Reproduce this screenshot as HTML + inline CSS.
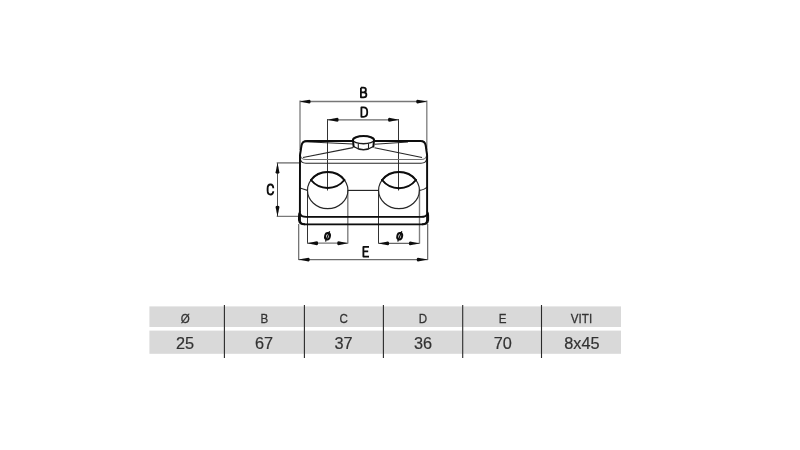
<!DOCTYPE html>
<html><head><meta charset="utf-8">
<style>
html,body{margin:0;padding:0;background:#fff;}
body{width:800px;height:450px;overflow:hidden;font-family:"Liberation Sans",sans-serif;}
svg{display:block;position:absolute;left:0;top:0;will-change:transform;}
text{font-family:"Liberation Sans",sans-serif;}
</style></head><body>
<svg width="800" height="450" viewBox="0 0 800 450">
<defs><filter id="soft" x="0" y="0" width="800" height="450" filterUnits="userSpaceOnUse"><feGaussianBlur stdDeviation="0.35"/></filter></defs>
<rect width="800" height="450" fill="#fff"/>
<g filter="url(#soft)">

<!-- TABLE -->
<g>
<rect x="149.4" y="306.4" width="471.6" height="20.6" fill="#d9d9d9"/>
<rect x="149.4" y="330.6" width="471.6" height="23.2" fill="#d9d9d9"/>
<g stroke="#2a2a2a" stroke-width="1.1">
<line x1="224.4" y1="305" x2="224.4" y2="358"/>
<line x1="304.4" y1="305" x2="304.4" y2="358"/>
<line x1="383.4" y1="305" x2="383.4" y2="358"/>
<line x1="462.7" y1="305" x2="462.7" y2="358"/>
<line x1="541.5" y1="305" x2="541.5" y2="358"/>
</g>
<g font-size="11.6" fill="#333" stroke="#333" stroke-width="0.25" text-anchor="middle" transform="translate(0,322.9) scale(1,1.08) translate(0,-322.9)">
<text x="185.3" y="322.9">Ø</text>
<text x="264.3" y="322.9">B</text>
<text x="343.8" y="322.9">C</text>
<text x="423" y="322.9">D</text>
<text x="502.7" y="322.9">E</text>
<text x="581.5" y="322.9">VITI</text>
</g>
<g font-size="16.3" fill="#333" stroke="#333" stroke-width="0.2" text-anchor="middle">
<text x="185" y="349">25</text>
<text x="264" y="349">67</text>
<text x="343.6" y="349">37</text>
<text x="423" y="349">36</text>
<text x="502.7" y="349">70</text>
<text x="581.9" y="349">8x45</text>
</g>
</g>

<!-- DIMENSIONS -->
<g fill="none">
<!-- B -->
<line x1="300" y1="100.5" x2="300" y2="150" stroke="#858585" stroke-width="1.4"/>
<line x1="426.8" y1="100.5" x2="426.8" y2="150" stroke="#858585" stroke-width="1.4"/>
<line x1="300" y1="101.5" x2="426.8" y2="101.5" stroke="#777" stroke-width="1.3"/>
<!-- D -->
<line x1="327.5" y1="119" x2="327.5" y2="190.5" stroke="#333" stroke-width="1"/>
<line x1="398.5" y1="119" x2="398.5" y2="190.5" stroke="#333" stroke-width="1"/>
<line x1="327.5" y1="119.8" x2="398.5" y2="119.8" stroke="#6a6a6a" stroke-width="1.2"/>
<!-- C -->
<line x1="277.5" y1="163" x2="277.5" y2="216.3" stroke="#505050" stroke-width="1"/>
<line x1="276.7" y1="162.9" x2="300" y2="162.9" stroke="#6a6a6a" stroke-width="1.3"/>
<line x1="276.7" y1="216.3" x2="299" y2="216.3" stroke="#555" stroke-width="1"/>
<!-- phi left -->
<line x1="307.5" y1="190" x2="307.5" y2="243.6" stroke="#333" stroke-width="1"/>
<line x1="347.8" y1="190" x2="347.8" y2="243.6" stroke="#808080" stroke-width="1.4"/>
<line x1="307.5" y1="243.1" x2="347.8" y2="243.1" stroke="#777" stroke-width="1.3"/>
<!-- phi right -->
<line x1="378.5" y1="190" x2="378.5" y2="243.6" stroke="#333" stroke-width="1"/>
<line x1="419.5" y1="190" x2="419.5" y2="243.6" stroke="#808080" stroke-width="1.4"/>
<line x1="378.5" y1="243.3" x2="419.5" y2="243.3" stroke="#666" stroke-width="1.2"/>
<!-- E -->
<line x1="298.7" y1="224" x2="298.7" y2="260" stroke="#686868" stroke-width="1.2"/>
<line x1="427.7" y1="224" x2="427.7" y2="260" stroke="#555" stroke-width="1.1"/>
<line x1="298.7" y1="259.5" x2="427.7" y2="259.5" stroke="#6c6c6c" stroke-width="1.25"/>
</g>
<g fill="#0d0d0d" stroke="none">
<path d="M299.6 101.6 L309.4 99.64999999999999 Q310.6 99.64999999999999 310.6 101.6 Q310.6 103.55 309.4 103.55 Z"/>
<path d="M427.2 101.6 L417.4 99.64999999999999 Q416.2 99.64999999999999 416.2 101.6 Q416.2 103.55 417.4 103.55 Z"/>
<path d="M327.3 119.8 L337.4 117.85 Q338.6 117.85 338.6 119.8 Q338.6 121.75 337.4 121.75 Z"/>
<path d="M398.8 119.8 L389.2 117.85 Q388.0 117.85 388.0 119.8 Q388.0 121.75 389.2 121.75 Z"/>
<path d="M277.5 162.8 L275.55 172.4 Q275.55 173.6 277.5 173.6 Q279.45 173.6 279.45 172.4 Z"/>
<path d="M277.5 216.5 L275.55 206.9 Q275.55 205.7 277.5 205.7 Q279.45 205.7 279.45 206.9 Z"/>
<path d="M307.3 243.2 L316.9 241.25 Q318.1 241.25 318.1 243.2 Q318.1 245.14999999999998 316.9 245.14999999999998 Z"/>
<path d="M348 243.2 L338.4 241.25 Q337.2 241.25 337.2 243.2 Q337.2 245.14999999999998 338.4 245.14999999999998 Z"/>
<path d="M378.3 243.4 L387.9 241.45000000000002 Q389.1 241.45000000000002 389.1 243.4 Q389.1 245.35 387.9 245.35 Z"/>
<path d="M419.7 243.4 L410.1 241.45000000000002 Q408.9 241.45000000000002 408.9 243.4 Q408.9 245.35 410.1 245.35 Z"/>
<path d="M298.5 259.6 L308.5 257.65000000000003 Q309.7 257.65000000000003 309.7 259.6 Q309.7 261.55 308.5 261.55 Z"/>
<path d="M427.9 259.6 L417.9 257.65000000000003 Q416.7 257.65000000000003 416.7 259.6 Q416.7 261.55 417.9 261.55 Z"/>
</g>

<!-- dimension letters -->
<g fill="none" stroke="#0d0d0d" stroke-width="1.8" stroke-linejoin="round" stroke-linecap="butt">
<path d="M360.9 87.7 L360.9 97.3 L363.6 97.3 Q366.4 97.3 366.4 94.7 Q366.4 92.3 363.6 92.3 L360.9 92.3 M363.4 92.3 Q365.9 92.3 365.9 90 Q365.9 87.7 363.4 87.7 L360.9 87.7"/>
<path d="M361.4 107.4 L361.4 116.8 L363.4 116.8 Q367.2 116.8 367.2 112.8 L367.2 111.4 Q367.2 107.4 363.4 107.4 Z"/>
<path d="M273.3 188.3 C273.2 185.7 272.3 184.5 270.5 184.5 C268.4 184.5 267.6 186.1 267.6 188.5 L267.6 190.5 C267.6 192.9 268.4 194.5 270.5 194.5 C272.3 194.5 273.2 193.3 273.3 191.2"/>
<path d="M369 246.9 L363.4 246.9 L363.4 256.6 L369 256.6 M363.4 251.4 L368.2 251.4"/>
</g>
<!-- phi symbols -->
<g stroke="#0d0d0d" fill="none">
<ellipse cx="327.5" cy="236.2" rx="2.4" ry="3.3" stroke-width="2" transform="rotate(14 327.5 236.2)"/>
<line x1="325.5" y1="241.6" x2="329.6" y2="231.3" stroke-width="1.3"/>
<ellipse cx="399.7" cy="236.2" rx="2.4" ry="3.3" stroke-width="2" transform="rotate(14 399.7 236.2)"/>
<line x1="397.7" y1="241.6" x2="401.8" y2="231.3" stroke-width="1.3"/>
</g>

<!-- BODY thin lines -->
<g stroke="#262626" stroke-width="1.15" fill="none">
<path d="M300.3 155.5 Q301 159.5 306 159.5 L421 159.5 Q426 159.5 426.7 155.5" stroke="#707070" stroke-width="1.2"/>
<path d="M300.2 158.5 Q300.8 163.2 306 163.2 L421 163.2 Q426.2 163.2 426.8 158.5" stroke="#2a2a2a" stroke-width="1.1"/>
<line x1="303" y1="157.5" x2="353" y2="147.6"/>
<line x1="374.5" y1="147.8" x2="422" y2="157.5"/>
<line x1="305" y1="141.8" x2="353" y2="144"/>
<line x1="374.5" y1="144.3" x2="408" y2="142"/>
<!-- circles thin -->
<ellipse cx="327.7" cy="190.3" rx="20.2" ry="18.3"/>
<ellipse cx="399" cy="190.3" rx="20.4" ry="18.3"/>
<!-- mid line -->
<line x1="348" y1="190.4" x2="378.5" y2="190.4"/>
<path d="M300 188 Q304 189.5 307.5 190.4"/>
<path d="M419.5 190.4 Q425 189.5 427 187"/>
<!-- bolt thin -->
<path d="M353 140 A10.4 3.7 0 0 0 374 140" stroke="#1a1a1a" stroke-width="1.3"/>
<path d="M353.6 146.5 Q363.4 153 373.4 146.5" stroke="#1a1a1a" stroke-width="1.25"/>
<line x1="358.3" y1="143.2" x2="358.3" y2="149.3" stroke="#222" stroke-width="1.1"/>
<line x1="368.5" y1="143.2" x2="368.5" y2="149.3" stroke="#222" stroke-width="1.1"/>
</g>

<!-- BODY thick lines -->
<g stroke="#080808" stroke-width="1.95" fill="none" stroke-linecap="round" stroke-linejoin="round">
<path d="M300 211.6 Q298.8 213.2 298.8 215.5 L298.8 220.3 Q298.9 222.8 301.2 223.8" stroke-width="1.5"/>
<path d="M304.4 224.3 Q299.9 224.3 299.9 220.3 L300 155 L301.5 145.5 Q302.3 141 307 141 L353 141"/>
<path d="M374 141 L420.5 141 Q425 141 425.7 145.5 L427.1 155 L427.1 220.3 Q427.1 224.3 422.8 224.3"/>
<path d="M427.3 211.8 Q428.4 213.2 428.4 215.5 L428.4 220.3 Q428.3 222.8 426 223.8" stroke-width="1.4"/>
<path d="M304.4 224.3 L422.8 224.3" stroke-width="1.8"/>
<path d="M300.4 214 Q301 216.9 306.4 216.9 L421 216.9 Q426.3 216.9 426.8 214.5" stroke-width="1.7"/>
<!-- bolt -->
<path d="M353 140 A10.4 3.9 0 0 1 374 140"/>
<path d="M353 140 L353.6 146.5"/>
<path d="M374 140 L373.4 146.5"/>
<!-- lens arcs -->
<path d="M311 180 A20.2 18.3 0 0 1 344.4 180"/>
<path d="M311 180 A21.5 21.5 0 0 0 344.4 180"/>
<path d="M382.1 180 A20.4 18.3 0 0 1 415.9 180"/>
<path d="M382.1 180 A21.5 21.5 0 0 0 415.9 180"/>
</g>
</g>
</svg>
</body></html>
